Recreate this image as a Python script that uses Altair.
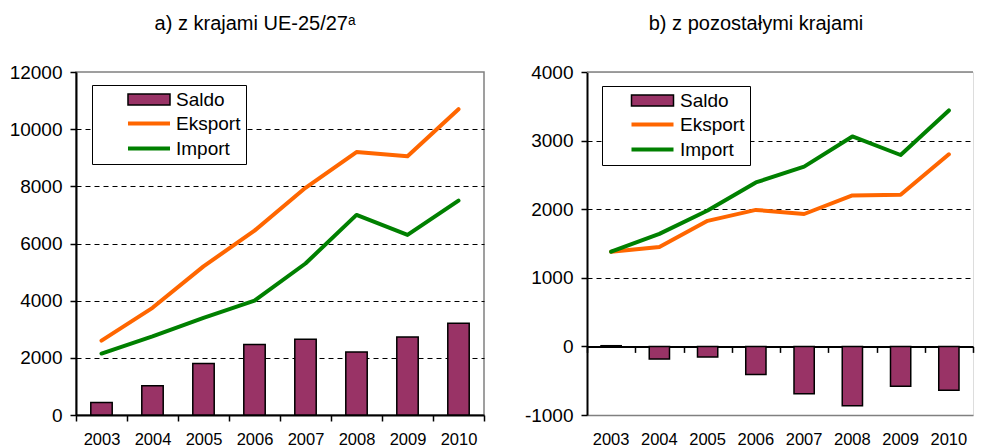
import altair as alt
import pandas as pd

years = ['2003', '2004', '2005', '2006', '2007', '2008', '2009', '2010']

eu_export = [2600, 3750, 5200, 6450, 7950, 9200, 9050, 10700]
eu_import = [2150, 2750, 3400, 4000, 5300, 7000, 6300, 7500]
eu_saldo = [440, 1020, 1800, 2470, 2650, 2200, 2730, 3210]

oth_export = [1380, 1450, 1830, 1990, 1930, 2200, 2210, 2800]
oth_import = [1380, 1640, 1980, 2390, 2620, 3060, 2790, 3440]
oth_saldo = [10, -185, -155, -410, -690, -865, -580, -640]

bar_series = ['Saldo']
line_series = ['Eksport', 'Import']
bar_color = ['#993366']
line_colors = ['#FF6600', '#008000']

title_a = 'a) z krajami UE-25/27\u1d43'
title_b = 'b) z pozostałymi krajami'

FONT = 'Liberation Sans'
H = 343

RECT = 'M-3.82,-1H3.82V1H-3.82Z'
LINE = 'M-3.82,0H3.82'


def bar_legend(lx, ly, symoff, laboff):
    return alt.Legend(
        title=None, orient='none', legendX=lx, legendY=ly, padding=0,
        symbolType=RECT, symbolSize=121, symbolOffset=symoff, labelOffset=laboff,
        symbolStrokeColor='black', symbolStrokeWidth=1.5, symbolOpacity=1,
        labelFontSize=19, labelFont=FONT, labelColor='black', zindex=2,
    )


def line_legend(lx, ly, symoff, laboff, nb):
    return alt.Legend(
        title='\u00a0', titleFontSize=19, titlePadding=5, orient='none',
        legendX=lx, legendY=ly, fillColor='white', strokeColor='black', padding=5,
        symbolType=LINE, symbolSize=121, symbolOffset=symoff, labelOffset=laboff,
        symbolStrokeWidth=4, symbolOpacity=1,
        labelFontSize=19, labelFont=FONT, labelColor='black', rowPadding=5,
        labelExpr="datum.label + '" + '\u00a0' * nb + "'", zindex=1,
    )


def yaxis(values, hide_test):
    return alt.Axis(
        values=values, title=None, labelFontSize=19, labelFont=FONT, labelColor='black',
        labelExpr="'' + datum.value", labelPadding=8,
        domainColor='black', domainWidth=2, tickColor='black', tickWidth=1.5, tickSize=6,
        grid=True, gridColor='black', gridDash=[5, 4], gridWidth=1,
        gridOpacity={'condition': {'test': hide_test, 'value': 0}, 'value': 1},
    )


fill_scale = alt.Scale(domain=bar_series, range=bar_color)
stroke_scale = alt.Scale(domain=line_series, range=line_colors)
xscale = alt.Scale(paddingInner=0, paddingOuter=0)

# ---------- panel a ----------
bars_a = pd.DataFrame({'year': years, 'value': eu_saldo, 'series': 'Saldo'})
lines_a = pd.DataFrame({'year': years * 2, 'value': eu_export + eu_import,
                        'series': ['Eksport'] * 8 + ['Import'] * 8})
ya = alt.Y('value:Q', scale=alt.Scale(domain=[0, 12000], nice=False),
           axis=yaxis(list(range(0, 12001, 2000)), 'datum.value <= 0 || datum.value >= 12000'))
xa_axis = alt.Axis(title=None, labelAngle=0, labelFontSize=16.5, labelFont=FONT, labelColor='black',
                   labelPadding=10, domainColor='black', domainWidth=2, tickColor='black',
                   tickWidth=1.5, tickSize=6, tickBand='extent', grid=False)

a_bar = alt.Chart(bars_a).mark_bar(stroke='black', strokeWidth=1.5,
                                   width=alt.RelativeBandSize(0.42)).encode(
    x=alt.X('year:O', scale=xscale, axis=xa_axis),
    y=ya,
    fill=alt.Fill('series:N', scale=fill_scale, legend=bar_legend(21, 18, 42.5, 17.5)),
)
a_line = alt.Chart(lines_a).mark_line(strokeWidth=4, strokeCap='round', strokeJoin='round').encode(
    x=alt.X('year:O', scale=xscale, axis=xa_axis),
    y=ya,
    stroke=alt.Stroke('series:N', scale=stroke_scale, legend=line_legend(16, 13, 42.5, 17.5, 6)),
)
panel_a = alt.layer(a_bar, a_line).properties(
    width=408, height=H,
    title=alt.TitleParams(title_a, fontSize=20, font=FONT, fontWeight='normal', color='black',
                          anchor='middle', frame='group', dx=-25, offset=29),
    view=alt.ViewBackground(stroke='#808080', strokeWidth=1.5),
)

# ---------- panel b ----------
WB = 386
bars_b = pd.DataFrame({'year': years, 'value': oth_saldo, 'series': 'Saldo'})
lines_b = pd.DataFrame({'year': years * 2, 'value': oth_export + oth_import,
                        'series': ['Eksport'] * 8 + ['Import'] * 8})
top_b = pd.DataFrame({'value': [4000]})
yb = alt.Y('value:Q', scale=alt.Scale(domain=[-1000, 4000], nice=False),
           axis=yaxis(list(range(-1000, 4001, 1000)),
                      'datum.value <= -1000 || datum.value >= 4000 || datum.value == 0'))
xb_zero = alt.Axis(orient='bottom', offset=-H / 5, title=None, labels=False,
                   domainColor='black', domainWidth=2, tickColor='black', tickWidth=1.5,
                   tickSize=6, tickBand='extent', grid=False)
xb_lab = alt.Axis(orient='bottom', title=None, labelAngle=0, labelFontSize=16.5, labelFont=FONT,
                  labelColor='black', labelPadding=16, domainColor='#808080', domainWidth=1.5,
                  ticks=False, grid=False)

b_bar = alt.Chart(bars_b).mark_bar(stroke='black', strokeWidth=1.5,
                                   width=alt.RelativeBandSize(0.42)).encode(
    x=alt.X('year:O', scale=xscale, axis=xb_zero),
    y=yb,
    fill=alt.Fill('series:N', scale=fill_scale, legend=bar_legend(20, 19, 36, 18)),
)
b_line = alt.Chart(lines_b).mark_line(strokeWidth=4, strokeCap='round', strokeJoin='round').encode(
    x=alt.X('year:O', scale=xscale, axis=xb_lab),
    y=yb,
    stroke=alt.Stroke('series:N', scale=stroke_scale, legend=line_legend(15, 14, 36, 18, 4)),
)
b_top = alt.Chart(top_b).mark_rule(color='#808080', strokeWidth=1.5).encode(y=yb)
panel_b = alt.layer(b_bar, b_line, b_top).resolve_axis(x='independent').properties(
    width=WB, height=H,
    title=alt.TitleParams(title_b, fontSize=20, font=FONT, fontWeight='normal', color='black',
                          anchor='middle', frame='group', dx=-24, offset=29),
)

chart = alt.hconcat(panel_a, panel_b, spacing=37).resolve_scale(
    fill='independent', stroke='independent').resolve_legend(
    fill='independent', stroke='independent').properties(
    padding={'left': 0, 'top': 5, 'right': 0, 'bottom': 0},
    background='white',
).configure_view(stroke=None).configure(font=FONT)

chart.save('out.html', embed_options={'renderer': 'svg', 'actions': False})
